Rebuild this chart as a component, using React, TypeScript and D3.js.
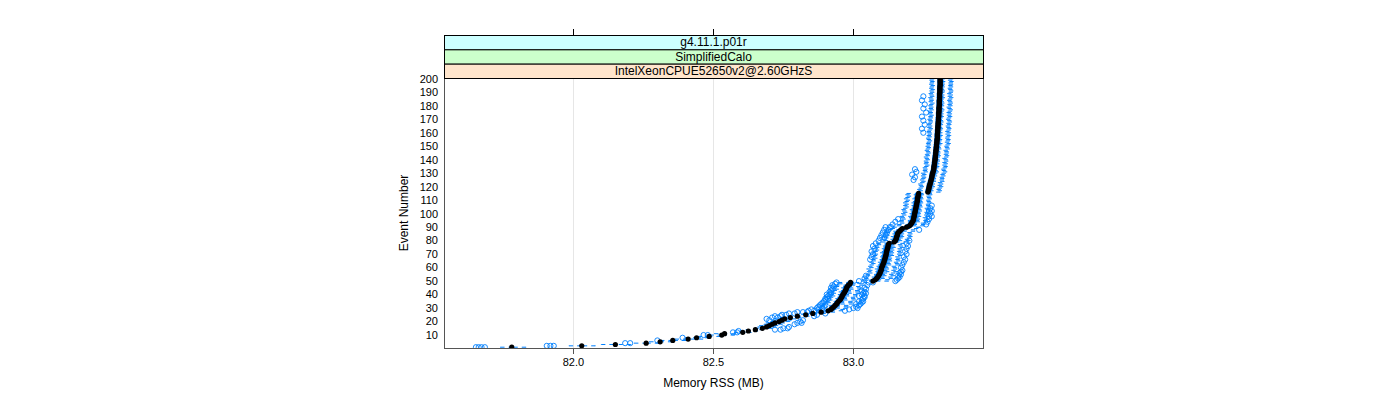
import React from "react";
import * as d3 from "d3";

// ---- Data ----
const stripLabels = ["g4.11.1.p01r", "SimplifiedCalo", "IntelXeonCPUE52650v2@2.60GHzS"];
const xTicks = [82.0, 82.5, 83.0];
const yTicks = [10, 20, 30, 40, 50, 60, 70, 80, 90, 100, 110, 120, 130, 140, 150, 160, 170, 180, 190, 200];

// median Memory RSS (MB) for events 1..200
const medians = [
  81.78, 82.03, 82.15, 82.26, 82.31, 82.355, 82.41, 82.44, 82.485, 82.53, 82.54,
  82.605, 82.625, 82.65, 82.675, 82.69, 82.70, 82.71, 82.72, 82.735, 82.745, 82.755, 82.775, 82.80, 82.83, 82.855, 82.885, 82.91,
  82.92, 82.925, 82.93, 82.935, 82.94, 82.943, 82.947, 82.952, 82.955, 82.958, 82.96, 82.963, 82.966, 82.969, 82.972, 82.974, 82.976, 82.978, 82.982, 82.988,
  82.99,
  83.07, 83.078, 83.083, 83.087, 83.09, 83.093, 83.095, 83.097, 83.099, 83.10, 83.101, 83.103, 83.105, 83.107, 83.109, 83.11, 83.112, 83.113, 83.115, 83.116, 83.117, 83.118, 83.119, 83.12, 83.122, 83.123, 83.124, 83.125, 83.128,
  83.145, 83.15, 83.152, 83.154, 83.155, 83.157, 83.158, 83.16,
  83.165, 83.17, 83.175, 83.19, 83.2, 83.205, 83.208, 83.211, 83.214,
  83.215, 83.216, 83.217, 83.218, 83.219, 83.22, 83.221, 83.222, 83.223, 83.224, 83.225, 83.226, 83.227, 83.228, 83.229, 83.229, 83.23, 83.231, 83.232, 83.233,
  83.266, 83.268, 83.269, 83.27, 83.271, 83.272, 83.274,
  83.275, 83.276, 83.278, 83.279, 83.28, 83.281, 83.282, 83.283, 83.285, 83.286,
  83.287, 83.288, 83.288, 83.289, 83.29, 83.29, 83.291, 83.292,
  83.292, 83.293, 83.293, 83.294, 83.294, 83.295, 83.295, 83.296, 83.296, 83.297, 83.297, 83.298, 83.298, 83.299, 83.299, 83.30, 83.30,
  83.30, 83.30, 83.301, 83.301, 83.301, 83.302, 83.302, 83.302, 83.303, 83.303, 83.303, 83.304, 83.304, 83.304, 83.305, 83.305, 83.305, 83.305, 83.306, 83.306, 83.306, 83.306, 83.307, 83.307, 83.307,
  83.307, 83.307, 83.308, 83.308, 83.308, 83.308, 83.308, 83.309, 83.309, 83.309, 83.309, 83.309, 83.31, 83.31, 83.31, 83.31, 83.31, 83.31,
];

// lower whisker distance below the median, in kB (events 1..200)
const whiskerLoKB = [
  40, 45, 50, 42, 38, 44, 47, 41, 39, 43, 36,
  30, 28, 33, 27, 31, 35, 29, 32, 30, 34, 28, 36, 33, 38, 35, 40,
  42, 47, 40, 45, 50, 43, 38, 46, 41, 48, 44, 39, 47, 42, 50, 45, 40, 48, 43, 46, 41, 44,
  40, 46, 43, 50, 44, 48, 41, 47, 45, 52, 43, 49, 46, 42, 50, 44, 47, 41, 48, 45, 43, 51, 46, 42, 49, 44, 47, 40, 45,
  45, 40, 48, 43, 50, 42, 47, 44, 51, 46, 41, 49, 43, 47, 40, 45, 48, 42, 46, 50, 43, 47, 41, 45, 49, 44, 40, 46, 42, 48, 44, 41, 47, 43, 39, 45, 42,
  38, 34, 40, 36, 33, 37, 41, 35, 32, 39, 36, 34, 38, 35, 40, 33, 37, 36, 39, 34,
  31, 37, 35, 38, 33, 36, 40, 34, 37, 32, 35, 39, 36, 33, 38, 34, 37, 35, 32, 36,
  39, 34, 37, 33, 36, 38, 35, 32, 37, 34, 39, 36, 33, 35, 38, 34, 36, 32, 37, 35,
  39, 33, 36, 34, 38, 35, 31, 37, 34, 36, 39, 33, 35, 38, 34, 36, 32, 37, 35, 33,
  38, 36, 34, 37, 35,
];
// upper whisker distance above the median, in kB (events 1..200)
const whiskerHiKB = [
  50, 48, 55, 45, 42, 47, 52, 44, 40, 46, 38,
  30, 33, 28, 35, 32, 30, 36, 34, 38, 33, 40, 37, 42, 39, 45, 48,
  52, 48, 55, 50, 46, 58, 53, 49, 56, 51, 47, 54, 50, 57, 52, 48, 55, 51, 46, 53, 49, 60,
  55, 50, 58, 52, 57, 49, 54, 60, 51, 56, 53, 48, 59, 55, 50, 57, 52, 54, 49, 58, 53, 56, 51, 55, 50, 57, 52, 48, 54,
  48, 53, 46, 51, 55, 49, 52, 47, 54, 50, 56, 48, 53, 51, 47, 55, 50, 52, 46, 54, 49, 51, 48, 53, 50, 46, 52, 49, 47, 51, 48, 45, 50, 47, 44, 49, 46,
  44, 47, 42, 45, 49, 43, 46, 41, 48, 44, 45, 42, 47, 43, 46, 49, 44, 41, 45, 48,
  43, 46, 42, 47, 44, 40, 45, 48, 43, 46, 44, 41, 47, 45, 42, 46, 49, 43, 45, 47,
  42, 44, 48, 43, 46, 41, 45, 47, 44, 42, 46, 43, 48, 45, 41, 44, 47, 43, 46, 42,
  45, 48, 44, 41, 46, 43, 47, 45, 42, 44, 48, 43, 46, 41, 45, 47, 44, 42, 46, 43,
  45, 44, 47, 42, 46,
];

// interquartile box extents relative to the median, per range of events (range starts)
const segStart = [1, 12, 28, 50, 79, 116];
const segQ1 = [-0.005, -0.007, -0.011, -0.012, -0.011, -0.009];
const segQ3 = [0.005, 0.008, 0.012, 0.013, 0.012, 0.009];

// outliers: event number and value
const outEvent = [
  1, 1, 1, 1, 2, 2, 2, 4, 4, 6, 8, 10, 10, 12, 12, 13, 14, 14, 15, 15, 16, 18, 19, 19, 20, 21, 21, 22, 23, 23,
  24, 24, 24, 25, 25, 25, 26, 26, 26, 27, 27, 27, 28, 28, 28, 29, 29, 29, 30, 30, 30, 30, 31, 31, 31, 32, 32, 32,
  33, 33, 33, 34, 34, 35, 35, 35, 36, 36, 37, 37, 37, 38, 38, 39, 39, 39, 40, 40, 40, 41, 41, 41, 42, 42, 43, 43,
  44, 44, 45, 45, 46, 47, 47, 48, 49, 49, 49, 50, 50, 51, 52, 52, 53, 54, 54, 55, 56, 57, 58, 60, 62, 64, 66, 66,
  68, 68, 70, 70, 72, 72, 74, 74, 76, 76, 78, 78, 80, 80, 82, 82, 84, 84, 86, 86, 88, 88, 88, 90, 90, 90, 92, 92,
  94, 94, 96, 96, 98, 98, 100, 102, 102, 104, 106, 125, 127, 129, 131, 133, 160, 163, 166, 169, 172, 175, 178, 181, 184, 187,
];
const outValue = [
  81.652, 81.662, 81.672, 81.684, 81.905, 81.918, 81.93, 82.185, 82.203, 82.30, 82.39, 82.465, 82.48, 82.57, 82.585, 82.59, 82.72, 82.74, 82.75, 82.765, 82.77, 82.79, 82.80, 82.815, 82.81, 82.70, 82.82, 82.69, 82.71, 82.73,
  82.72, 82.74, 82.86, 82.745, 82.76, 82.87, 82.77, 82.79, 82.9, 82.80, 82.82, 82.835, 82.84, 82.86, 82.97, 82.85, 82.875, 82.985, 82.87, 82.89, 83.00, 83.015, 82.875, 82.895, 83.01, 82.88, 82.9, 83.02,
  82.885, 83.025, 83.01, 82.89, 83.03, 82.895, 83.02, 83.035, 82.9, 83.03, 82.9, 82.91, 83.035, 82.905, 83.04, 82.91, 83.02, 83.04, 82.905, 82.915, 83.03, 82.92, 83.035, 83.045, 82.915, 83.04, 82.92, 83.03,
  82.925, 83.045, 82.92, 83.04, 82.93, 82.925, 83.05, 82.935, 83.055, 83.07, 82.94, 83.02, 83.15, 83.155, 83.16, 83.04, 83.165, 83.16, 83.045, 83.17, 83.165, 83.17, 83.175, 83.17, 83.175, 83.18, 83.06, 83.185,
  83.065, 83.18, 83.07, 83.19, 83.065, 83.185, 83.075, 83.19, 83.07, 83.195, 83.08, 83.19, 83.09, 83.2, 83.095, 83.11, 83.1, 83.115, 83.105, 83.12, 83.11, 83.125, 83.235, 83.115, 83.135, 83.13, 83.14, 83.26,
  83.15, 83.265, 83.16, 83.27, 83.27, 83.28, 83.275, 83.27, 83.28, 83.275, 83.28, 83.215, 83.22, 83.21, 83.225, 83.22, 83.25, 83.245, 83.255, 83.25, 83.245, 83.26, 83.25, 83.255, 83.245, 83.25,
];

// ---- Layout ----
const W = 1400;
const H = 400;
const PX0 = 444, PX1 = 983, PY0 = 78, PY1 = 348;
const STRIP_H = (PY0 - 35) / 3;
const stripColors = ["#ccffff", "#ccffcc", "#ffe5cc"];
const BLUE = "#0080ff";
const FONT = "'Liberation Sans', Arial, Helvetica, sans-serif";

export default function App() {
  const x = d3.scaleLinear().domain([81.538, 83.463]).range([PX0, PX1]);
  const y = d3.scaleLinear().domain([0.4, 200.6]).range([PY1, PY0]);
  const unit = Math.abs(y(1) - y(0));
  const boxH = unit * 0.5;

  const segOf = (ev: number) => {
    let s = 0;
    for (let i = 0; i < segStart.length; i++) if (ev >= segStart[i]) s = i;
    return s;
  };

  const boxes = medians.map((m, i) => {
    const ev = i + 1;
    const s = segOf(ev);
    return {
      ev,
      m,
      q1: m + segQ1[s],
      q3: m + segQ3[s],
      lo: m - whiskerLoKB[i] / 1000,
      hi: m + whiskerHiKB[i] / 1000,
    };
  });

  return (
    <svg width={W} height={H} style={{ display: "block", position: "absolute", left: 0, top: 0 }} fontFamily={FONT}>
      <rect x={0} y={0} width={W} height={H} fill="#fff" />
      {/* grid */}
      {xTicks.map((t) => (
        <line key={"g" + t} x1={Math.round(x(t)) + 0.5} x2={Math.round(x(t)) + 0.5} y1={PY0} y2={PY1} stroke="#e6e6e6" />
      ))}
      {/* boxes and whiskers */}
      <g clipPath="url(#clip)">
        {boxes.map((b) => {
          const cy = y(b.ev);
          return (
            <g key={"b" + b.ev}>
              <line x1={x(b.lo)} x2={x(b.q1)} y1={cy} y2={cy} stroke={BLUE} strokeWidth={1} strokeDasharray="4,4" />
              <line x1={x(b.hi)} x2={x(b.q3)} y1={cy} y2={cy} stroke={BLUE} strokeWidth={1} strokeDasharray="4,4" />
              <line x1={x(b.lo)} x2={x(b.lo)} y1={cy - boxH / 2} y2={cy + boxH / 2} stroke={BLUE} strokeWidth={1} />
              <line x1={x(b.hi)} x2={x(b.hi)} y1={cy - boxH / 2} y2={cy + boxH / 2} stroke={BLUE} strokeWidth={1} />
              <rect x={x(b.q1)} y={cy - boxH / 2} width={x(b.q3) - x(b.q1)} height={boxH} fill="none" stroke={BLUE} strokeWidth={0.8} />
            </g>
          );
        })}
        {outEvent.map((ev, i) => (
          <circle key={"o" + i} cx={x(outValue[i])} cy={y(ev)} r={2.6} fill="none" stroke={BLUE} strokeWidth={0.9} />
        ))}
        {boxes.map((b) => (
          <circle key={"m" + b.ev} cx={x(b.m)} cy={y(b.ev)} r={2.6} fill="#000" />
        ))}
      </g>
      <defs>
        <clipPath id="clip">
          <rect x={PX0} y={PY0} width={PX1 - PX0} height={PY1 - PY0} />
        </clipPath>
      </defs>
      {/* panel border */}
      <rect x={PX0 + 0.5} y={PY0 + 0.5} width={PX1 - PX0} height={PY1 - PY0} fill="none" stroke="#555" />
      {/* strips */}
      {stripLabels.map((lab, i) => {
        const top = 35 + i * STRIP_H;
        return (
          <g key={"s" + i}>
            <rect x={PX0 + 0.5} y={top + 0.5} width={PX1 - PX0} height={STRIP_H} fill={stripColors[i]} stroke="#000" strokeWidth={1} />
            <text x={(PX0 + PX1) / 2} y={top + STRIP_H / 2} dy="0.35em" textAnchor="middle" fontSize={12} fill="#000">
              {lab}
            </text>
          </g>
        );
      })}
      {/* top ticks */}
      {xTicks.map((t) => (
        <line key={"tt" + t} x1={Math.round(x(t)) + 0.5} x2={Math.round(x(t)) + 0.5} y1={29} y2={35} stroke="#000" />
      ))}
      {/* bottom ticks & labels */}
      {xTicks.map((t) => (
        <g key={"bt" + t}>
          <line x1={Math.round(x(t)) + 0.5} x2={Math.round(x(t)) + 0.5} y1={PY1} y2={PY1 + 6} stroke="#555" />
          <text x={x(t)} y={362} dy="0.35em" textAnchor="middle" fontSize={11} fill="#000">
            {t.toFixed(1)}
          </text>
        </g>
      ))}
      {/* y labels */}
      {yTicks.map((t) => (
        <text key={"yl" + t} x={438} y={y(t)} dy="0.35em" textAnchor="end" fontSize={11} fill="#000">
          {t}
        </text>
      ))}
      <text x={(PX0 + PX1) / 2} y={383} dy="0.35em" textAnchor="middle" fontSize={12} fill="#000">
        Memory RSS (MB)
      </text>
      <text transform={`translate(404, ${(PY0 + PY1) / 2}) rotate(-90)`} dy="0.35em" textAnchor="middle" fontSize={12} fill="#000">
        Event Number
      </text>
    </svg>
  );
}
